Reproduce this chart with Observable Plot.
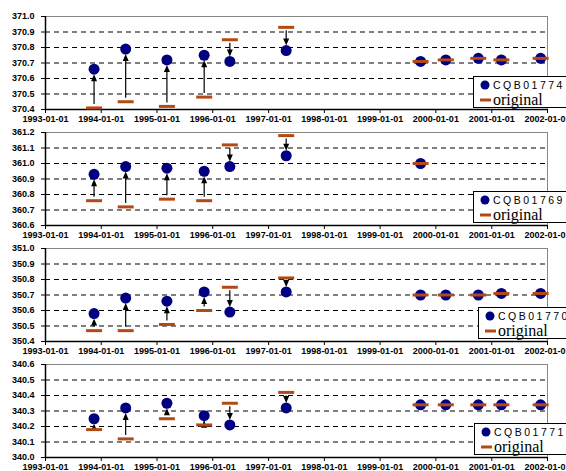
<!DOCTYPE html>
<html><head><meta charset="utf-8">
<script src="https://cdn.jsdelivr.net/npm/d3@7"></script>
<script src="https://cdn.jsdelivr.net/npm/@observablehq/plot@0.6"></script>
<style>
body{margin:0;background:#fff;}
#wrap{position:relative;width:566px;height:471px;overflow:hidden;background:#fff;}
.panel{position:absolute;left:0;}
.legend{position:absolute;overflow:visible;}
</style></head><body><div id="wrap"></div>
<script>
const dates = ["1993-11-15","1994-06-10","1995-03-07","1995-11-06","1996-04-22","1997-04-26","1999-09-23","2000-03-06","2000-10-05","2001-03-05","2001-11-17"];
const xTicks = ["1993-01-01","1994-01-01","1995-01-01","1996-01-01","1997-01-01","1998-01-01","1999-01-01","2000-01-01","2001-01-01","2002-01-01"];
const names = ["CQB01774","CQB01769","CQB01770","CQB01771"];
const legendName = "original";
const adjusted1774 = [370.66,370.79,370.72,370.75,370.71,370.78,370.71,370.72,370.73,370.72,370.73];
const original1774 = [370.41,370.45,370.42,370.48,370.85,370.93,370.71,370.72,370.73,370.72,370.73];
const adjusted1769 = [360.93,360.98,360.97,360.95,360.98,361.05,361.00,null,null,null,null];
const original1769 = [360.76,360.72,360.77,360.76,361.12,361.18,361.00,null,null,null,null];
const adjusted1770 = [350.58,350.68,350.66,350.72,350.59,350.72,350.70,350.70,350.70,350.71,350.71];
const original1770 = [350.47,350.47,350.51,350.60,350.75,350.81,350.70,350.70,350.70,350.71,350.71];
const adjusted1771 = [340.25,340.32,340.35,340.27,340.21,340.32,340.34,340.34,340.34,340.34,340.34];
const original1771 = [340.18,340.12,340.25,340.21,340.35,340.42,340.34,340.34,340.34,340.34,340.34];
const yTicks1774 = [370.4,370.5,370.6,370.7,370.8,370.9,371.0];
const yTicks1769 = [360.6,360.7,360.8,360.9,361.0,361.1,361.2];
const yTicks1770 = [350.4,350.5,350.6,350.7,350.8,350.9,351.0];
const yTicks1771 = [340.0,340.1,340.2,340.3,340.4,340.5,340.6];

const adjusted = [adjusted1774, adjusted1769, adjusted1770, adjusted1771];
const original = [original1774, original1769, original1770, original1771];
const yTicks = [yTicks1774, yTicks1769, yTicks1770, yTicks1771];
const legendLeft = [473, 473, 478, 474];

const NAVY = "#000080", BROWN = "#b34a16";
const headUp = {draw(ctx){ctx.moveTo(0,0);ctx.lineTo(3,7);ctx.lineTo(-3,7);ctx.closePath();}};
const headDown = {draw(ctx){ctx.moveTo(0,0);ctx.lineTo(3,-7);ctx.lineTo(-3,-7);ctx.closePath();}};
const dash = {draw(ctx){ctx.rect(-8,-1.5,16,3);}};
const wrap = document.getElementById("wrap");
const xmin = new Date(xTicks[0]), xmax = new Date(xTicks[xTicks.length-1]);

function panel(i){
  const rows = dates.map((d,k)=>({date:new Date(d), v:adjusted[i][k], o:original[i][k]})).filter(r=>r.v!=null);
  const up = rows.filter(r=>r.v - r.o > 0.02);
  const down = rows.filter(r=>r.o - r.v > 0.02);
  const t = yTicks[i];
  const lo = t[0], hi = t[t.length-1];
  return Plot.plot({
    width:566, height:130, marginTop:16, marginBottom:21, marginLeft:45, marginRight:19,
    style:{background:"transparent", overflow:"visible", fontFamily:"'Liberation Sans', Arial, sans-serif", fontSize:"9px", fontWeight:"bold", color:"#000"},
    x:{type:"utc", domain:[xmin, xmax]},
    y:{domain:[lo, hi]},
    marks:[
      Plot.ruleY(t.slice(1,-1),{stroke:"#000", strokeWidth:1.2, strokeDasharray:"5,4"}),
      Plot.ruleY([hi],{stroke:"#888"}),
      Plot.ruleX([xmax],{stroke:"#888"}),
      Plot.ruleY([lo],{stroke:"#000", strokeWidth:1.5}),
      Plot.ruleX([xmin],{stroke:"#000", strokeWidth:1.5}),
      Plot.axisX({ticks:xTicks.map(d=>new Date(d)), tickFormat:d3.utcFormat("%Y-%m-%d"), tickSize:4, tickPadding:2, label:null}),
      Plot.axisY({ticks:t, tickFormat:d=>d.toFixed(1), tickSize:4, tickPadding:7, label:null}),
      Plot.dot(rows,{x:"date", y:"v", r:5.5, fill:NAVY, stroke:"none"}),
      Plot.ruleX(up,{x:"date", y1:"v", y2:"o", insetTop:8, insetBottom:3.5, stroke:"#000", strokeWidth:1.2}),
      Plot.ruleX(down,{x:"date", y1:"o", y2:"v", insetTop:3.5, insetBottom:8, stroke:"#000", strokeWidth:1.2}),
      Plot.dot(up,{x:"date", y:"v", symbol:headUp, dy:5, fill:"#000", stroke:"none"}),
      Plot.dot(down,{x:"date", y:"v", symbol:headDown, dy:-5, fill:"#000", stroke:"none"}),
      Plot.dot(rows,{x:"date", y:"o", symbol:dash, fill:BROWN, stroke:"none"})
    ]
  });
}

names.forEach((name,i)=>{
  const svg = panel(i);
  svg.classList.add("panel");
  svg.style.top = (116*i) + "px";
  wrap.appendChild(svg);
  const ns = "http://www.w3.org/2000/svg";
  const lg = document.createElementNS(ns,"svg");
  lg.setAttribute("class","legend");
  lg.setAttribute("width","120"); lg.setAttribute("height","34");
  lg.style.left = legendLeft[i] + "px";
  lg.style.top = (76 + 116*i - (i>0?1:0)) + "px";
  lg.innerHTML = `<rect x="0.5" y="0.5" width="130" height="31" fill="#fff" stroke="#000"/>
    <circle cx="12" cy="9" r="4.5" fill="${NAVY}"/>
    <text x="20" y="12.5" font-family="'Liberation Sans', Arial" font-size="10.5" letter-spacing="2.5">${name}</text>
    <rect x="7" y="22.5" width="11" height="3" fill="${BROWN}"/>
    <text x="20" y="28.5" font-family="'Liberation Serif', 'Times New Roman', serif" font-size="16">${legendName}</text>`;
  wrap.appendChild(lg);
});
</script>
</body></html>
